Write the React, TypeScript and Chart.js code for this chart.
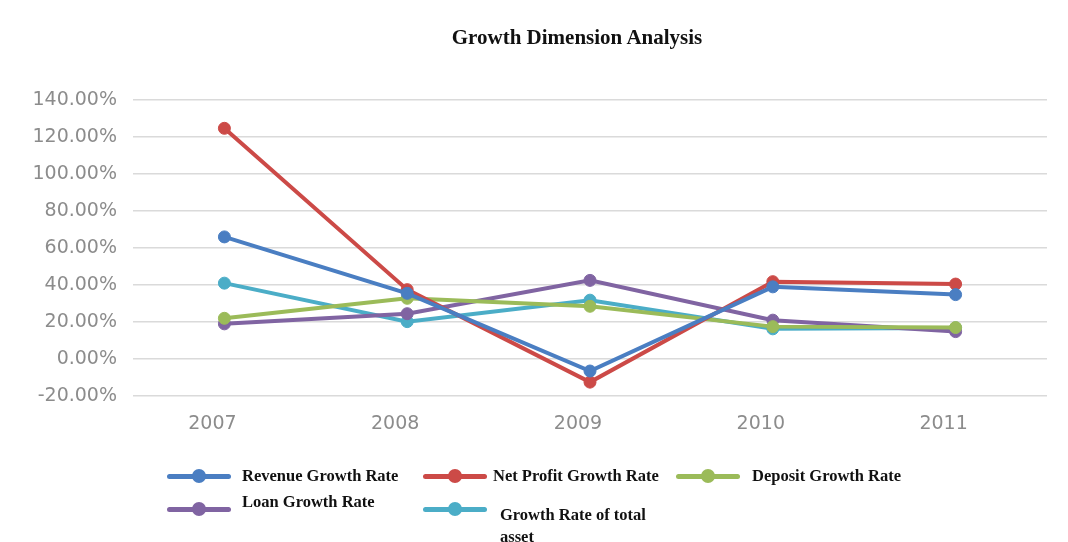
import React, { useEffect, useRef } from "react";
import { Chart, registerables } from "chart.js";

Chart.register(...registerables);

const years = ["2007", "2008", "2009", "2010", "2011"];
const revenueGrowth = [66.0, 35.5, -6.5, 39.0, 34.8];
const netProfitGrowth = [124.7, 37.5, -12.5, 41.8, 40.5];
const depositGrowth = [22.0, 32.8, 28.5, 17.5, 17.0];
const loanGrowth = [19.0, 24.5, 42.5, 21.0, 14.8];
const totalAssetGrowth = [41.0, 20.2, 31.8, 16.3, 16.8];
const yTicks = { min: -20, max: 140, step: 20 };

const COLORS = {
  blue: "#4a7ec2",
  red: "#cc4a47",
  green: "#9bbb59",
  purple: "#8064a2",
  cyan: "#4badc7",
};

const legendItems = [
  { label: "Revenue Growth Rate", color: COLORS.blue, x: 167, y: 476, tx: 242, ty: 476 },
  { label: "Net Profit Growth Rate", color: COLORS.red, x: 423, y: 476, tx: 493, ty: 476 },
  { label: "Deposit Growth Rate", color: COLORS.green, x: 676, y: 476, tx: 752, ty: 476 },
  { label: "Loan Growth Rate", color: COLORS.purple, x: 167, y: 509, tx: 242, ty: 502 },
  { label: "Growth Rate of total asset", color: COLORS.cyan, x: 423, y: 509, tx: 500, ty: 515, wrap: true },
];

export default function App() {
  const ref = useRef<HTMLCanvasElement>(null);

  useEffect(() => {
    const ds = (label: string, data: number[], color: string) => ({
      label,
      data,
      borderColor: color,
      backgroundColor: color,
      pointBackgroundColor: color,
      pointBorderColor: color,
      borderWidth: 4,
      pointRadius: 6,
      pointBorderWidth: 1,
      tension: 0,
    });
    const chart = new Chart(ref.current!, {
      type: "line",
      data: {
        labels: years,
        datasets: [
          ds("Revenue Growth Rate", revenueGrowth, COLORS.blue),
          ds("Net Profit Growth Rate", netProfitGrowth, COLORS.red),
          ds("Deposit Growth Rate", depositGrowth, COLORS.green),
          ds("Loan Growth Rate", loanGrowth, COLORS.purple),
          ds("Growth Rate of total asset", totalAssetGrowth, COLORS.cyan),
        ],
      },
      options: {
        animation: false,
        responsive: false,
        layout: { padding: { top: 100, right: 21, left: 0, bottom: 0 } },
        plugins: {
          legend: { display: false },
          title: { display: false },
          tooltip: { enabled: false },
        },
        scales: {
          x: {
            offset: true,
            grid: { display: false, drawTicks: false },
            border: { display: false },
            ticks: {
              color: "#8c8c8c",
              font: { family: "DejaVu Sans", size: 19 },
              padding: 17,
              labelOffset: -12,
            },
            afterFit: (s: any) => {
              s.height = 146;
            },
          },
          y: {
            min: yTicks.min,
            max: yTicks.max,
            grid: { color: "#dadada", lineWidth: 1.6, drawTicks: false },
            border: { display: false },
            ticks: {
              stepSize: yTicks.step,
              color: "#8c8c8c",
              font: { family: "DejaVu Sans", size: 19 },
              padding: 16,
              callback: (v: any) => Number(v).toFixed(2) + "%",
            },
            afterFit: (s: any) => {
              s.width = 133;
            },
          },
        },
      },
    });
    return () => chart.destroy();
  }, []);

  return (
    <div style={{ position: "absolute", left: 0, top: 0, width: 1068, height: 542, background: "#fff", overflow: "hidden" }}>
      <canvas ref={ref} width={1068} height={542} style={{ position: "absolute", left: 0, top: 0 }} />
      <div
        style={{
          position: "absolute",
          left: 377,
          width: 400,
          top: 23,
          textAlign: "center",
          fontFamily: "'Liberation Serif', serif",
          fontWeight: "bold",
          fontSize: 21,
          color: "#111",
          lineHeight: "28px",
        }}
      >
        Growth Dimension Analysis
      </div>
      {legendItems.map((it) => (
        <React.Fragment key={it.label}>
          <div style={{ position: "absolute", left: it.x, top: it.y - 2.5, width: 64, height: 5, background: it.color, borderRadius: 2.5 }} />
          <div
            style={{
              position: "absolute",
              left: it.x + 25,
              top: it.y - 7,
              width: 14,
              height: 14,
              borderRadius: 7,
              background: it.color,
            }}
          />
          <div
            style={{
              position: "absolute",
              left: it.tx,
              top: it.ty - 11,
              width: it.wrap ? 165 : 260,
              fontFamily: "'Liberation Serif', serif",
              fontWeight: "bold",
              fontSize: 16.5,
              lineHeight: "22px",
              color: "#111",
              whiteSpace: it.wrap ? "normal" : "nowrap",
            }}
          >
            {it.label}
          </div>
        </React.Fragment>
      ))}
    </div>
  );
}
